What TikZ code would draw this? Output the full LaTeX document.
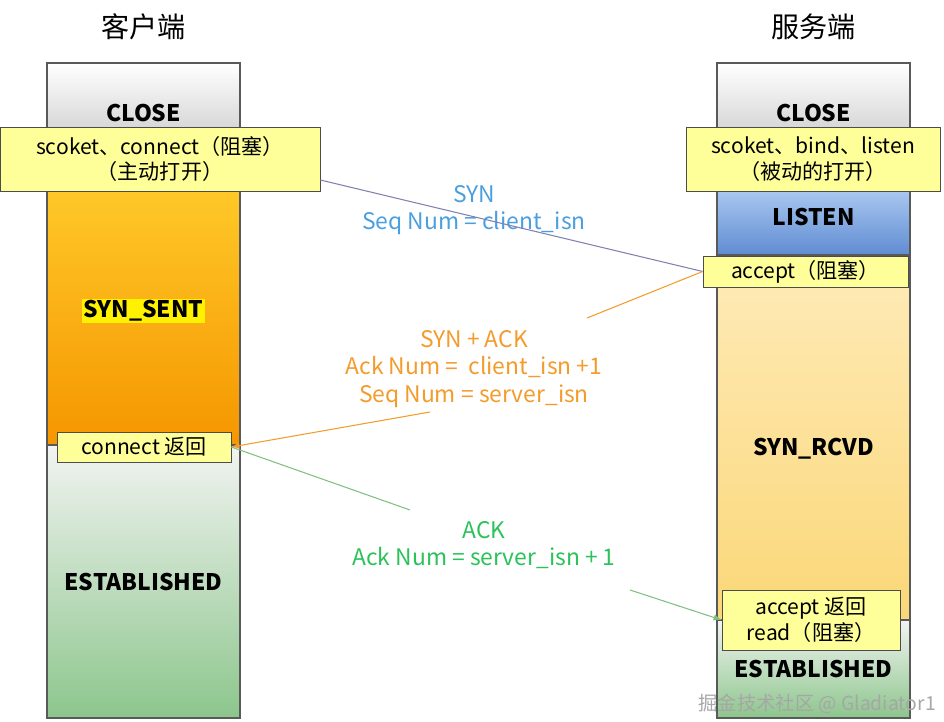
\documentclass[tikz,border=0pt]{standalone}
\usepackage{fontspec}
\setmainfont{Noto Sans CJK SC}
\usetikzlibrary{positioning}
\definecolor{synblue}{HTML}{4A9FE0}
\definecolor{synorange}{HTML}{F39B2B}
\definecolor{ackgreen}{HTML}{2BC25A}
\definecolor{labelbg}{HTML}{FFFF99}
\begin{document}
\begin{tikzpicture}[x=0.02cm,y=-0.02cm,
 state/.style={draw=black!65,thick,minimum width=3.86cm,inner sep=0pt},
 tag/.style={draw=black!70,fill=labelbg,font=\fontsize{12}{14.5}\selectfont,align=center,inner sep=1pt},
 stname/.style={font=\bfseries\fontsize{13}{15}\selectfont},
 msg/.style={font=\fontsize{13}{15.5}\selectfont,align=center}]
 \useasboundingbox (0,0) rectangle (944,722);
 % client column
 \node[state,minimum height=2.54cm,top color=white,bottom color=black!30] (cclose) at (143.5,126.5) {};
 \node[state,minimum height=5.1cm,top color={rgb,255:red,255;green,200;blue,40},bottom color={rgb,255:red,245;green,150;blue,0}] (csent) at (143.5,317.5) {};
 \node[state,minimum height=5.46cm,top color=green!10!black!5,bottom color=green!50!black!45] (cest) at (143.5,581.5) {};
 \node[stname] at (143.5,113) {CLOSE};
 \node[stname,fill=yellow,inner sep=1pt] at (143.5,311) {SYN\_SENT};
 \node[stname] at (143.5,582) {ESTABLISHED};
 % server column
 \node[state,minimum height=2.54cm,top color=white,bottom color=black!30] (sclose) at (813.5,126.5) {};
 \node[state,minimum height=1.3cm,top color={rgb,255:red,170;green,200;blue,240},bottom color={rgb,255:red,95;green,140;blue,210}] (slisten) at (813.5,222.5) {};
 \node[state,minimum height=7.3cm,top color={rgb,255:red,255;green,235;blue,185},bottom color={rgb,255:red,250;green,215;blue,120}] (srcvd) at (813.5,437.5) {};
 \node[state,minimum height=1.96cm,top color=green!10!black!5,bottom color=green!50!black!45] (sest) at (813.5,669) {};
 \node[stname] at (813.5,113) {CLOSE};
 \node[stname] at (813.5,217) {LISTEN};
 \node[stname] at (813.5,449) {SYN\_RCVD};
 \node[stname] at (813.5,669) {ESTABLISHED};
 % headers
 \node[font=\fontsize{16}{19}\selectfont] at (143.5,27) {客户端};
 \node[font=\fontsize{16}{19}\selectfont] at (813.5,27) {服务端};
 % tags
 \node[tag,minimum width=6.4cm,minimum height=1.28cm] (copen) at (160,159) {scoket、connect（阻塞）\\（主动打开）};
 \node[tag,minimum width=5.08cm,minimum height=1.28cm] (sopen) at (813,159) {scoket、bind、listen\\（被动的打开）};
 \node[tag,minimum width=4.1cm,minimum height=0.62cm] (accept) at (805.5,271.5) {accept（阻塞）};
 \node[tag,minimum width=3.48cm,minimum height=0.6cm] (cret) at (144,447) {connect 返回};
 \node[tag,minimum width=3.56cm,minimum height=1.2cm] (sret) at (811,620) {accept 返回\\read（阻塞）};
 % messages
 \node[msg,text=synblue] (syn) at (474,210) {SYN\\Seq Num = client\_isn};
 \node[msg,text=synorange] (synack) at (474,369) {SYN + ACK\\Ack Num = \ client\_isn +1\\Seq Num = server\_isn};
 \node[msg,text=ackgreen] (ack) at (484,545) {ACK\\Ack Num = server\_isn + 1};
 \coordinate (sa1) at (587,318);
 \coordinate (sa2) at (430,412);
 \coordinate (ak1) at (410,510);
 \coordinate (ak2) at (630,590);
 \draw[semithick,blue!40!black!50] (copen.east|-0,180) -- (accept.west);
 \draw[semithick,synorange] (accept.west) -- (sa1);
 \draw[semithick,synorange,-latex] (sa2) -- (cret.east);
 \draw[semithick,green!50!black!50] (cret.east) -- (ak1);
 \draw[semithick,green!50!black!50,-latex] (ak2) -- (sret.west);
 \node[text=black!35,font=\fontsize{11}{13}\selectfont,anchor=east] at (942,704) {掘金技术社区 @ Gladiator1};
\end{tikzpicture}
\end{document}
